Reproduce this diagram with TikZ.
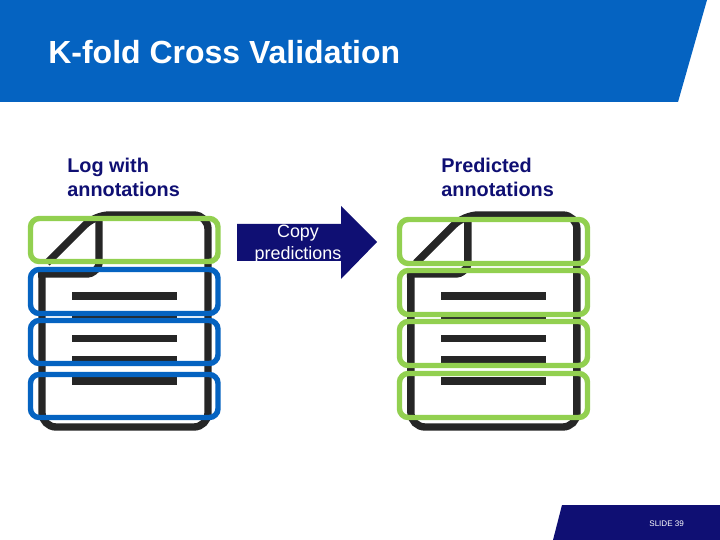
\documentclass[tikz,border=0pt]{standalone}
\usepackage{fontspec}
\setmainfont{Liberation Sans}
\usepackage{tikz}
\definecolor{colorHead}{HTML}{0563C1}
\definecolor{colorNavy}{HTML}{0F0F73}
\definecolor{colorGreen}{HTML}{92D050}
\definecolor{colorIcon}{HTML}{262626}
\tikzset{
    icon/.style={colorIcon, line width=4.2pt, rounded corners=8pt},
    iconfold/.style={colorIcon, line width=4.2pt, rounded corners=2pt},
    blueband/.style={draw=colorHead, line width=3.1pt, rounded corners=5pt},
    greenband/.style={draw=colorGreen, line width=3.1pt, rounded corners=5pt},
    caption/.style={anchor=base west, inner sep=0pt, font=\fontsize{11.3pt}{14pt}\selectfont\bfseries, text=colorNavy},
    arrowtext/.style={inner sep=0pt, text=white, font=\fontsize{10.2pt}{12pt}\selectfont}
}

\begin{document}
\begin{tikzpicture}[x=0.02cm,y=-0.02cm]
        \useasboundingbox (0,0) rectangle (720,540);
        \fill[white] (0,0) rectangle (720,540);

        % header and footer
        \fill[colorHead] (0,0) -- (707,0) -- (678,102) -- (0,102) -- cycle;
        \fill[colorNavy] (562,505) -- (720,505) -- (720,540) -- (553,540) -- cycle;
        \node[anchor=base west, inner sep=0pt, text=white, font=\fontsize{18.2pt}{22pt}\selectfont\bfseries] (title) at (48,64) {K-fold Cross Validation};
        \node[anchor=base west, inner sep=0pt, text=white, font=\fontsize{4.6pt}{6pt}\selectfont] (slide) at (649,526) {SLIDE 39};

        \node[caption] (logtext) at (67,173) {Log with};
        \node[caption] (logtext2) at (67,197) {annotations};
        \node[caption] (predtext) at (441,173) {Predicted};
        \node[caption] (predtext2) at (441,197) {annotations};

        % left document
        \draw[icon] (47,263) -- (95,215) -- (208,215) -- (208,427) -- (42,427) -- (42,272);
        \draw[iconfold] (38,274) -- (91,274) -- (99,267) -- (99,215);
        \fill[colorIcon] (72,292.3) rectangle (177,300);
        \fill[colorIcon] (72,313.5) rectangle (177,321.2);
        \fill[colorIcon] (72,334.7) rectangle (177,342.4);
        \fill[colorIcon] (72,356) rectangle (177,363.7);
        \fill[colorIcon] (72,377.2) rectangle (177,384.9);
        \draw[greenband] (30.5,218.5) rectangle (218,261.5);
        \draw[blueband] (30.5,269.5) rectangle (218,313.5);
        \draw[blueband] (30.5,320.5) rectangle (218,363.5);
        \draw[blueband] (30.5,374.5) rectangle (218,417.5);

        % arrow
        \fill[colorNavy] (237,224) -- (341,224) -- (341,206) -- (377,242) -- (341,279) -- (341,261) -- (237,261) -- cycle;
        \node[arrowtext] (copytext) at (298,233) {Copy};
        \node[arrowtext] (predictions) at (298,255) {predictions};

        % right document
        \begin{scope}[xshift=7.38cm]
            \draw[icon] (47,263) -- (95,215) -- (208,215) -- (208,427) -- (42,427) -- (42,272);
            \draw[iconfold] (38,274) -- (91,274) -- (99,267) -- (99,215);
            \fill[colorIcon] (72,292.3) rectangle (177,300);
            \fill[colorIcon] (72,313.5) rectangle (177,321.2);
            \fill[colorIcon] (72,334.7) rectangle (177,342.4);
            \fill[colorIcon] (72,356) rectangle (177,363.7);
            \fill[colorIcon] (72,377.2) rectangle (177,384.9);
        \end{scope}
        \draw[greenband] (399.5,219.5) rectangle (587.5,263.5);
        \draw[greenband] (399.5,270.5) rectangle (587.5,314.5);
        \draw[greenband] (399.5,321.5) rectangle (587.5,365.5);
        \draw[greenband] (399.5,373.5) rectangle (587.5,417.5);
    \end{tikzpicture}
\end{document}
